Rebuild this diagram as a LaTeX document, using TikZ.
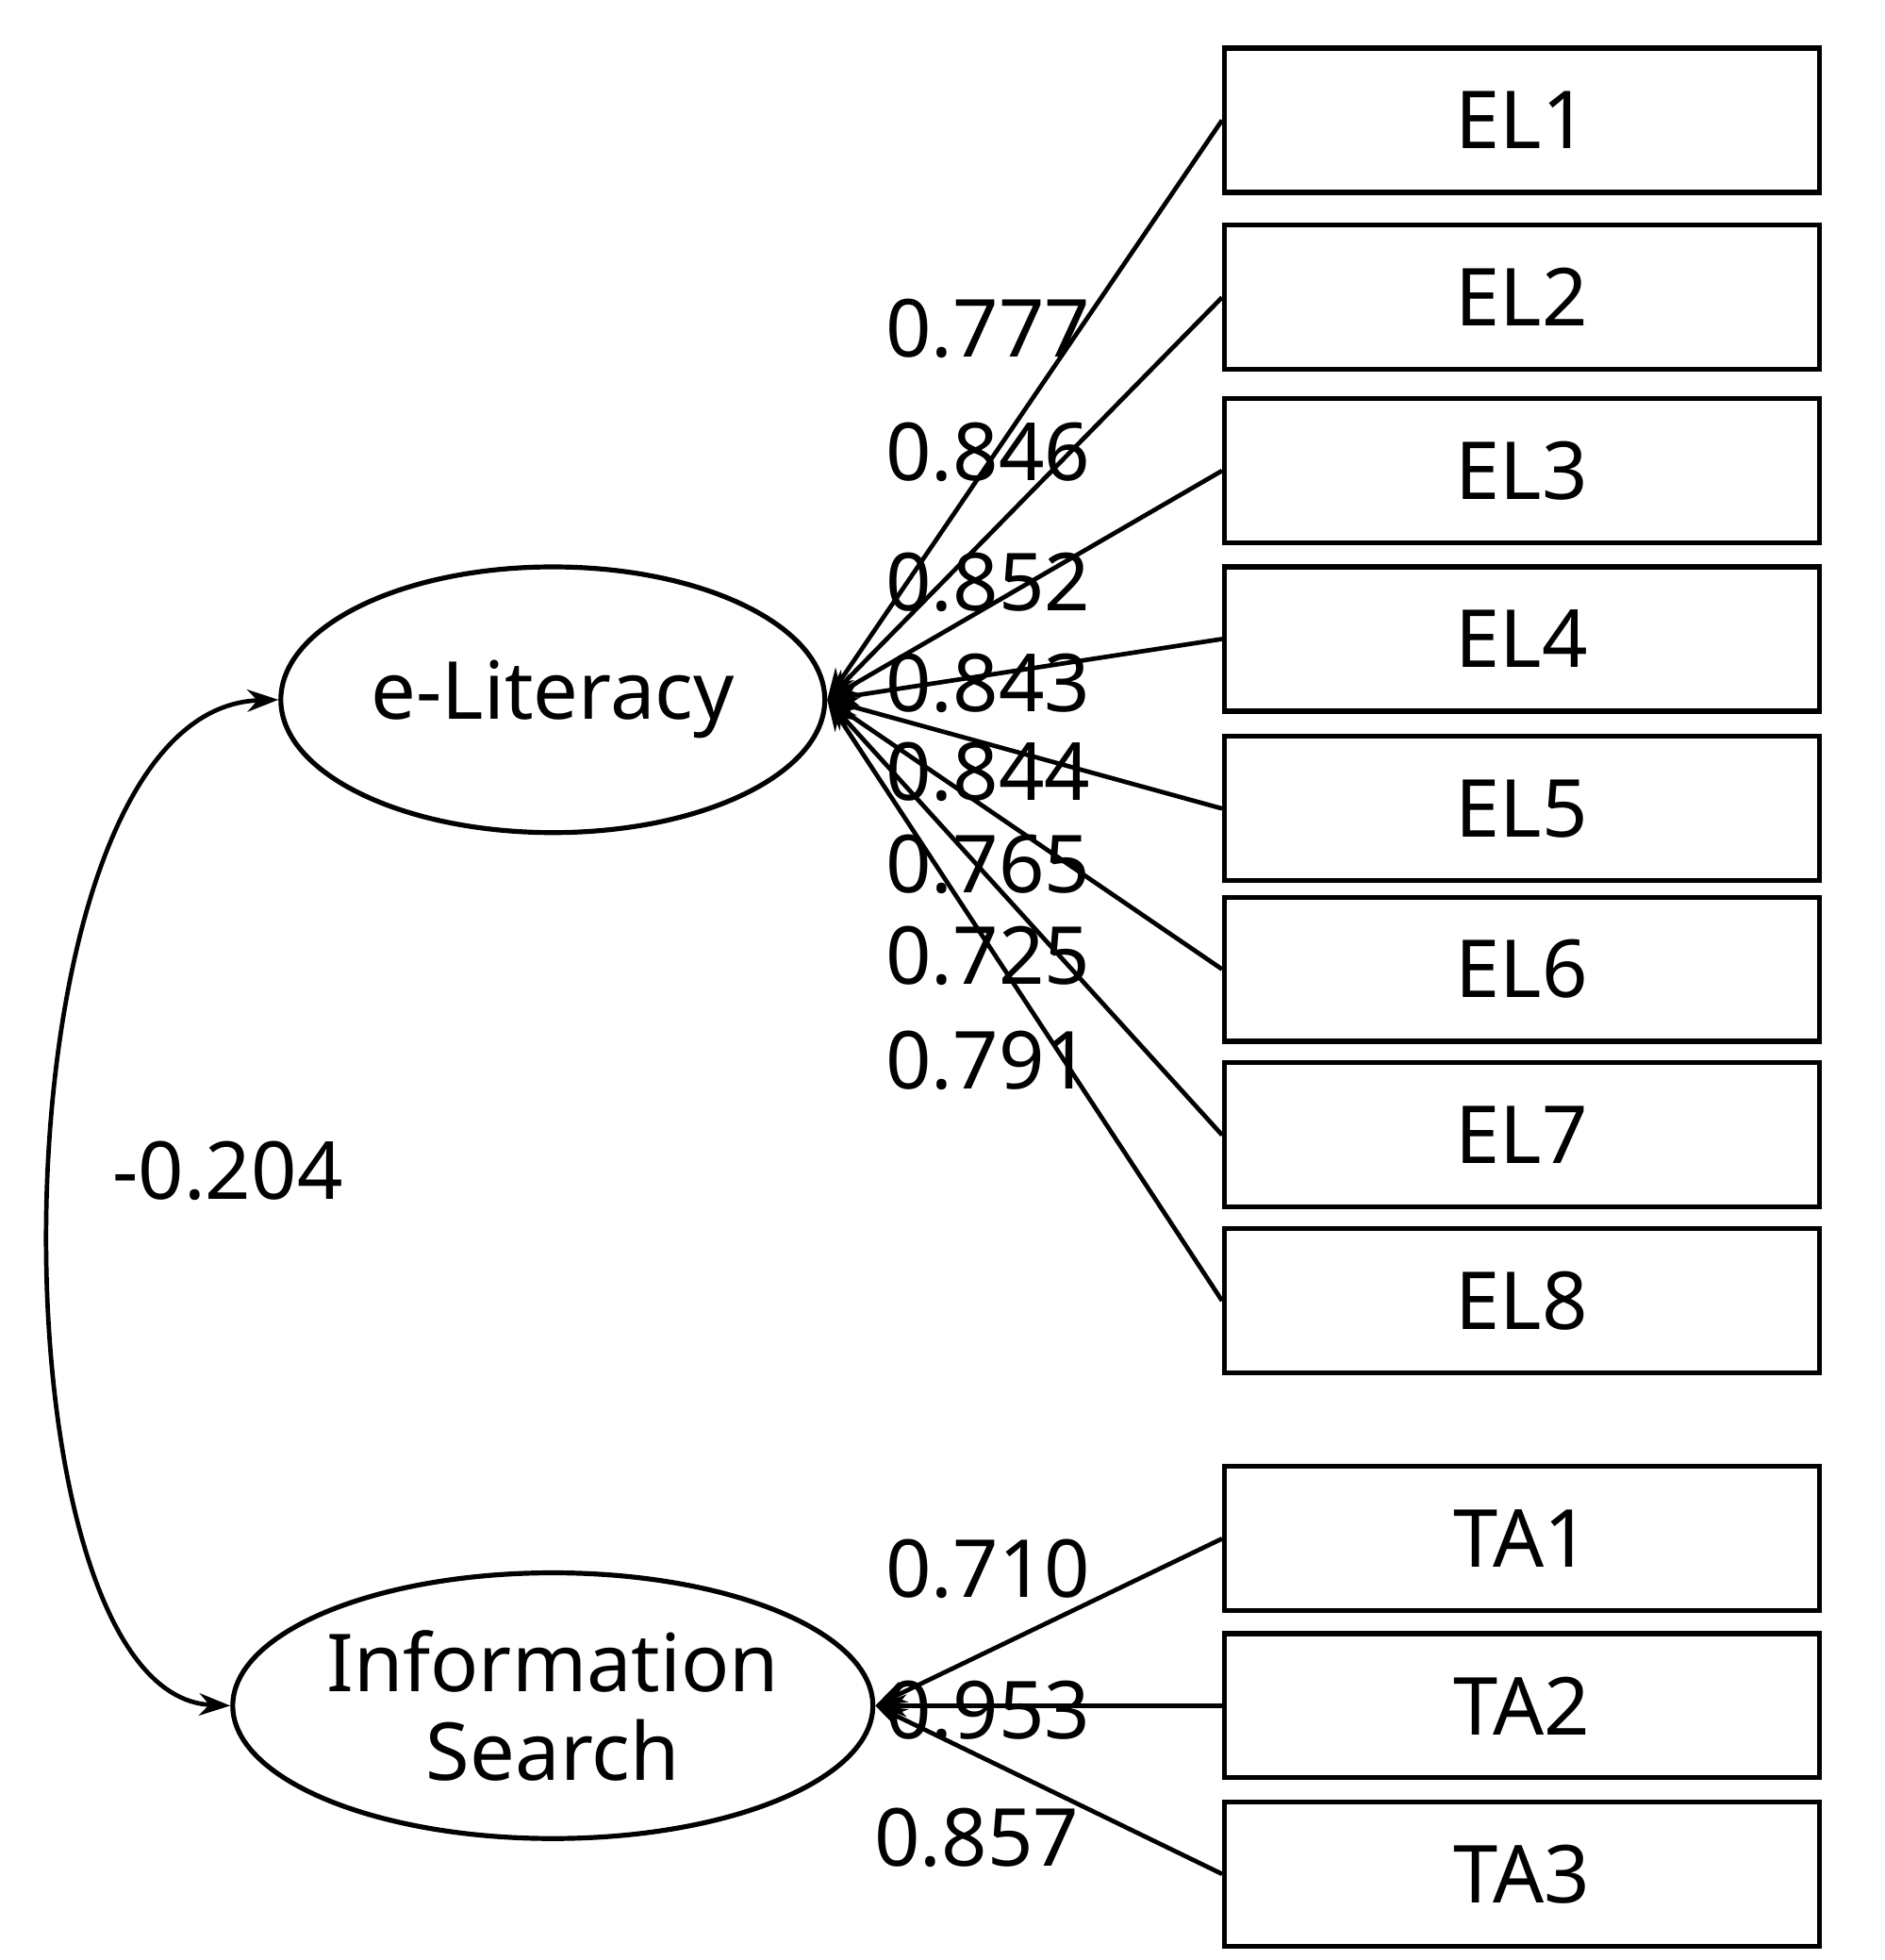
\documentclass[tikz,border=0pt]{standalone}
\usepackage{fontspec}
\setmainfont{Noto Sans}
\usetikzlibrary{arrows.meta,shapes.geometric}
\begin{document}
\begin{tikzpicture}[x=0.02cm,y=-0.02cm,
  every node/.style={font=\fontsize{36}{42}\selectfont},
  box/.style={draw,line width=2.2pt,minimum width=470*0.02cm,minimum height=114*0.02cm,inner sep=0pt},
  lat/.style={draw,ellipse,line width=2.2pt,minimum width=430*0.02cm,minimum height=210*0.02cm,inner sep=0pt,align=center},
  ar/.style={line width=2pt,-{Stealth[length=14pt,width=10pt]}},
  lab/.style={inner sep=0pt}]
\useasboundingbox (0,0) rectangle (1490,1549);
\node[lat] (EL) at (437,553) {e-Literacy};
\node[lat,font=\fontsize{36}{40}\selectfont] (IS) at (437,1348) {Information\\Search};
\foreach \n/\y in {EL1/95,EL2/235,EL3/372,EL4/505,EL5/639,EL6/766,EL7/897,EL8/1028,TA1/1216,TA2/1348,TA3/1481}
  \node[box] (\n) at (1203,\y) {\n};
\foreach \n in {EL1,EL2,EL3,EL4,EL5,EL6,EL7,EL8}
  \draw[ar] (\n.west) -- (EL.east);
\foreach \n in {TA1,TA2,TA3}
  \draw[ar] (\n.west) -- (IS.east);
\draw[line width=2pt,{Stealth[length=14pt,width=10pt]}-{Stealth[length=14pt,width=10pt]}] (EL.west) .. controls (-13,560) and (-13,1340) .. (IS.west);
\foreach \t/\y in {0.777/260,0.846/357,0.852/460,0.843/540,0.844/610,0.765/683,0.725/755,0.791/838,0.710/1240,0.953/1352}
  \node[lab] at (781,\y) {\t};
\node[lab] at (772,1452) {0.857};
\node[lab] at (180,925) {-0.204};
\end{tikzpicture}
\end{document}
